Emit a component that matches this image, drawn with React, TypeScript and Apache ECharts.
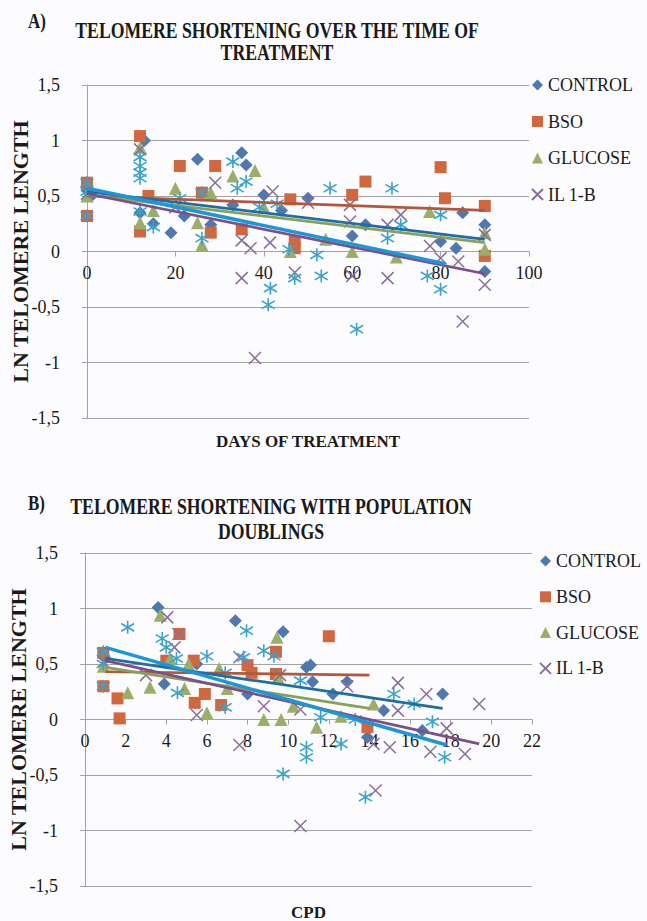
import React, { useEffect, useRef } from "react";
import * as echarts from "echarts";

const SERIF = '"Liberation Serif", "Times New Roman", serif';
const SERIES_NAMES = ["CONTROL", "BSO", "GLUCOSE", "IL 1-B"];

// ---------- Panel A: days of treatment ----------
const ctrlA = [[0,0.55],[1,0.50],[12,0.35],[13,1.0],[15,0.25],[19,0.17],[22,0.32],[25,0.83],[28,0.24],[33,0.42],[35,0.89],[36,0.78],[40,0.51],[44,0.37],[50,0.48],[60,0.14],[63,0.24],[80,0.09],[83.5,0.03],[85,0.35],[90,0.24],[90,-0.18]];
const bsoA = [[0,0.62],[0,0.32],[12,1.04],[12,0.18],[13.9,0.5],[21,0.77],[26,0.53],[28,0.17],[29,0.77],[35,0.20],[46,0.47],[47,0.09],[47,0.03],[60,0.51],[63,0.63],[80,0.76],[81,0.48],[90,0.41],[90,-0.04]];
const glucA = [[0,0.50],[12,0.94],[12,0.26],[15,0.37],[20,0.57],[25,0.26],[26,0.06],[28,0.53],[33,0.68],[38,0.73],[40,0.40],[46,0.0],[54,0.11],[60,0.0],[70,-0.05],[77.5,0.36],[90,0.17],[90,0.02]];
const ilA = [[0,0.52],[12,0.92],[20,0.40],[29,0.62],[35,0.10],[35,-0.24],[37,0.03],[38,-0.96],[41.4,0.08],[42,0.54],[47,-0.19],[50,0.44],[59.5,0.42],[59.5,0.27],[60,-0.22],[68,0.24],[68,-0.24],[71,0.33],[77.6,0.05],[80,-0.06],[84,-0.09],[85,-0.63],[90,0.15],[90,-0.30]];
const astA = [[0,0.62],[0,0.54],[0,0.32],[12,0.85],[12,0.77],[12,0.71],[12,0.66],[12,0.36],[15,0.22],[21,0.48],[26,0.53],[26,0.12],[33,0.81],[34,0.57],[36,0.63],[39,0.40],[41,-0.48],[41.5,-0.33],[43,0.43],[45.7,0.02],[47,-0.24],[52,-0.03],[53,-0.22],[55,0.57],[61,-0.70],[68,0.12],[69,0.57],[71,0.24],[77,-0.22],[80,0.33],[80,-0.34]];
const trendA = {
  ctrl: [[0,0.54],[90,0.11]],
  bso: [[0,0.50],[90,0.37]],
  gluc: [[0,0.51],[90,0.08]],
  il: [[0,0.52],[90,-0.20]],
  ast: [[0,0.57],[81,-0.11]],
};

// ---------- Panel B: CPD ----------
const ctrlB = [[1,0.55],[3.6,1.01],[3.9,0.32],[5.5,0.50],[7.4,0.89],[8.0,0.23],[9.75,0.79],[10.9,0.47],[11.1,0.49],[11.2,0.34],[12.2,0.23],[12.9,0.34],[13.9,-0.16],[14.7,0.08],[16.6,-0.10],[17.6,0.23]];
const bsoB = [[0.9,0.60],[0.9,0.30],[1.6,0.19],[1.7,0.01],[4.0,0.53],[4.65,0.77],[5.35,0.53],[5.4,0.15],[5.9,0.23],[6.7,0.13],[8.0,0.49],[8.2,0.42],[9.4,0.61],[9.4,0.41],[12.0,0.75],[13.9,-0.07]];
const glucB = [[0.9,0.48],[2.1,0.24],[3.2,0.29],[3.7,0.94],[4.2,0.55],[4.9,0.28],[5.1,0.50],[6.0,0.06],[6.6,0.46],[7.0,0.28],[8.8,0.0],[9.45,0.74],[9.5,0.38],[9.65,0.0],[10.25,0.12],[11.4,-0.07],[12.6,0.03],[14.2,0.14]];
const ilB = [[0.9,0.52],[3.0,0.40],[4.05,0.92],[4.4,0.65],[4.6,0.77],[5.5,0.04],[7.6,0.56],[7.6,-0.23],[8.8,0.12],[9.6,0.40],[10.6,0.09],[10.6,-0.96],[12.9,0.30],[14.2,-0.22],[14.3,-0.64],[15.0,-0.25],[15.4,0.33],[15.4,0.08],[16.8,0.23],[17.0,-0.29],[17.8,-0.08],[18.7,-0.31],[19.4,0.14]];
const astB = [[0.9,0.61],[0.9,0.50],[0.9,0.30],[2.1,0.83],[3.8,0.73],[4.0,0.65],[4.5,0.55],[4.55,0.24],[6.0,0.57],[6.9,0.42],[6.9,0.11],[7.8,0.56],[7.95,0.80],[8.8,0.62],[9.3,0.57],[9.75,-0.49],[10.6,0.35],[10.9,-0.25],[10.9,-0.34],[11.6,0.02],[12.6,-0.22],[13.3,0.0],[13.8,-0.70],[15.2,0.23],[16.2,0.14],[17.1,-0.02],[17.7,-0.34]];
const trendB = {
  ctrl: [[1,0.55],[17.6,0.10]],
  bso: [[1,0.43],[14,0.40]],
  gluc: [[1,0.47],[14,0.10]],
  il: [[1,0.53],[19.4,-0.22]],
  ast: [[1,0.65],[17.8,-0.23]],
};

const yTicks = { min: -1.5, max: 1.5, interval: 0.5 };
const xTicksA = { min: 0, max: 100, interval: 20 };
const xTicksB = { min: 0, max: 22, interval: 2 };

const COL = {
  ctrl: "#4f78b0",
  bso: "#d1673f",
  gluc: "#9aae68",
  il: "#8a6e98",
  ast: "#3aa3cc",
};
const LINE = {
  ctrl: "#1f6ea3",
  bso: "#b3573a",
  gluc: "#8aa05a",
  il: "#7d4f88",
  ast: "#1b96d8",
};

const X_PATH = "path://M0,0L10,10M0,10L10,0";
const AST_PATH = "path://M5,0L5,10M0,2L10,8M0,8L10,2";

const PLOT_H = 333;

function scatterSeries(g: number, data: number[][][]) {
  const [c, b, gl, il, a] = data;
  return [
    { name: "CONTROL", type: "scatter", xAxisIndex: g, yAxisIndex: g, data: c, symbol: "diamond", symbolSize: 13, itemStyle: { color: COL.ctrl, opacity: 1 } },
    { name: "BSO", type: "scatter", xAxisIndex: g, yAxisIndex: g, data: b, symbol: "rect", symbolSize: 12, itemStyle: { color: COL.bso, opacity: 1 } },
    { name: "GLUCOSE", type: "scatter", xAxisIndex: g, yAxisIndex: g, data: gl, symbol: "triangle", symbolSize: 13, itemStyle: { color: COL.gluc, opacity: 1 } },
    { name: "IL 1-B", type: "scatter", xAxisIndex: g, yAxisIndex: g, data: il, symbol: X_PATH, symbolSize: 12, itemStyle: { color: COL.il, borderColor: COL.il, borderWidth: 1.5, opacity: 1 } },
    { name: "series5", type: "scatter", xAxisIndex: g, yAxisIndex: g, data: a, symbol: AST_PATH, symbolSize: 13, itemStyle: { color: COL.ast, borderColor: COL.ast, borderWidth: 1.6, opacity: 1 } },
  ];
}

function trendSeries(g: number, t: any) {
  const order = ["bso", "gluc", "ctrl", "il", "ast"];
  return order.map((k) => ({
    name: "trend-" + k,
    type: "line",
    xAxisIndex: g,
    yAxisIndex: g,
    data: t[k],
    symbol: "none",
    silent: true,
    z: 3,
    lineStyle: { color: (LINE as any)[k], width: k === "ast" ? 3.5 : 2.7 },
  }));
}

const axisGray = "#a3a3a3";

function xAxisCfg(g: number, ticks: any, name: string, nameGap: number) {
  return {
    type: "value",
    gridIndex: g,
    ...ticks,
    position: "bottom",
    // the axis crosses the value axis at 0 (mid-height of the plot)
    offset: -PLOT_H / 2,
    axisLine: { show: true, onZero: false, lineStyle: { color: axisGray, width: 1 } },
    axisTick: { show: true, length: 5, lineStyle: { color: axisGray } },
    axisLabel: { margin: 12, fontSize: 18, fontFamily: SERIF, color: "#1a1a1a" },
    splitLine: { show: false },
    name,
    nameLocation: "middle",
    nameGap,
    nameMoveOverlap: false,
    nameTextStyle: { fontSize: 17, fontWeight: "bold", fontFamily: SERIF, color: "#1a1a1a" },
  };
}

function yAxisCfg(g: number) {
  return {
    type: "value",
    gridIndex: g,
    ...yTicks,
    axisLine: { show: true, onZero: false, lineStyle: { color: axisGray, width: 1 } },
    axisTick: { show: true, length: 5, lineStyle: { color: axisGray } },
    axisLabel: {
      margin: 27,
      fontSize: 18,
      fontFamily: SERIF,
      color: "#1a1a1a",
      formatter: (v: number) => String(v).replace(".", ","),
    },
    splitLine: { show: true, lineStyle: { color: axisGray, width: 1 } },
    name: "LN TELOMERE LENGTH",
    nameLocation: "middle",
    nameGap: 56,
    nameMoveOverlap: false,
    nameTextStyle: { fontSize: 22, fontWeight: "bold", fontFamily: SERIF, color: "#1a1a1a" },
  };
}

function legendCfg(left: number, top: number, gap: number) {
  return {
    data: SERIES_NAMES,
    orient: "vertical",
    left,
    top,
    itemWidth: 11,
    itemHeight: 11,
    itemGap: gap,
    textStyle: { fontSize: 18, fontFamily: SERIF, color: "#1a1a1a" },
  };
}

function titleText(x: number, y: number, text: string, size: number, lh: number, align: string) {
  return {
    type: "text",
    x,
    y,
    scaleX: 0.77,
    silent: true,
    style: {
      text,
      font: `bold ${size}px ${SERIF}`,
      fill: "#1a1a1a",
      align,
      textAlign: align,
      verticalAlign: "top",
      textVerticalAlign: "top",
      lineHeight: lh,
    },
  };
}

export default function App() {
  const ref = useRef<HTMLDivElement>(null);
  useEffect(() => {
    document.body.style.margin = "0";
    const chart = echarts.init(ref.current!, null, { renderer: "svg" });
    const option = {
      animation: false,
      backgroundColor: "#fcfcfe",
      textStyle: { fontFamily: SERIF },
      graphic: [
        titleText(28, 10, "A)", 22, 22, "left"),
        titleText(277, 19, "TELOMERE SHORTENING OVER THE TIME OF\nTREATMENT", 23, 22, "center"),
        titleText(28, 492, "B)", 22, 22, "left"),
        titleText(271, 494, "TELOMERE SHORTENING WITH POPULATION\nDOUBLINGS", 23, 25, "center"),
      ],
      grid: [
        { left: 87, top: 85, width: 442, height: PLOT_H, outerBoundsMode: "none" },
        { left: 85, top: 553, width: 447, height: PLOT_H, outerBoundsMode: "none" },
      ],
      legend: [legendCfg(526, 71, 18.5), legendCfg(534, 547, 17.8)],
      xAxis: [
        xAxisCfg(0, xTicksA, "DAYS OF TREATMENT", 181),
        xAxisCfg(1, xTicksB, "CPD", 184),
      ],
      yAxis: [yAxisCfg(0), yAxisCfg(1)],
      series: [
        ...scatterSeries(0, [ctrlA, bsoA, glucA, ilA, astA]),
        ...scatterSeries(1, [ctrlB, bsoB, glucB, ilB, astB]),
        ...trendSeries(0, trendA),
        ...trendSeries(1, trendB),
      ],
    };
    chart.setOption(option as any);
    return () => chart.dispose();
  }, []);
  return <div ref={ref} style={{ width: 647, height: 921 }} />;
}
